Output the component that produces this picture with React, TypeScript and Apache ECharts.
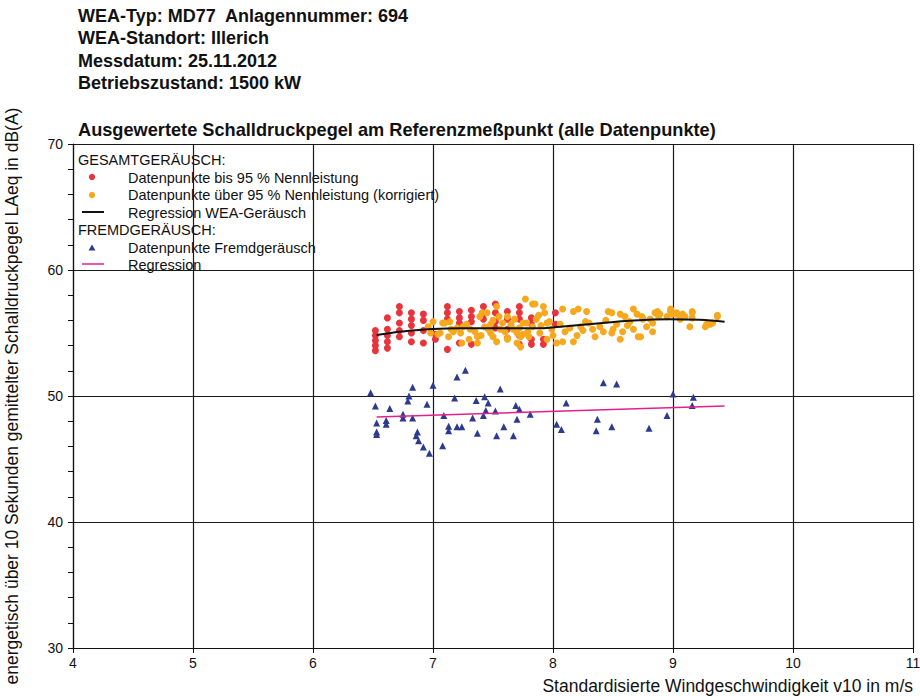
import React, { useEffect, useRef } from "react";
import * as echarts from "echarts";

const FONT = "'Liberation Sans', Arial, Helvetica, sans-serif";

const headerLines = [
  "WEA-Typ: MD77  Anlagennummer: 694",
  "WEA-Standort: Illerich",
  "Messdatum: 25.11.2012",
  "Betriebszustand: 1500 kW",
];
const chartTitle = "Ausgewertete Schalldruckpegel am Referenzmeßpunkt (alle Datenpunkte)";
const xAxisName = "Standardisierte Windgeschwindigkeit v10 in m/s";
const yAxisName = "energetisch über 10 Sekunden gemittelter Schalldruckpegel LAeq in dB(A)";

const legendGroup1 = "GESAMTGERÄUSCH:";
const legendGroup2 = "FREMDGERÄUSCH:";
const nameRed = "Datenpunkte bis 95 % Nennleistung";
const nameOrange = "Datenpunkte über 95 % Nennleistung (korrigiert)";
const nameBlack = "Regression WEA-Geräusch";
const nameBlue = "Datenpunkte Fremdgeräusch";
const nameMagenta = "Regression";

const xTicks = [4, 5, 6, 7, 8, 9, 10, 11];
const yTicks = [30, 40, 50, 60, 70];

// Datenpunkte bis 95 % Nennleistung
const redPoints: number[][] = [
  [6.52, 55.2], [6.52, 54.8], [6.52, 54.4], [6.52, 54.0], [6.52, 53.6],
  [6.62, 56.2], [6.62, 55.3], [6.62, 54.8], [6.62, 54.3], [6.62, 53.8],
  [6.72, 57.1], [6.72, 56.6], [6.72, 55.8], [6.72, 55.2], [6.72, 54.7],
  [6.82, 56.6], [6.82, 56.1], [6.82, 55.6], [6.82, 55.0], [6.82, 54.3],
  [6.92, 56.5], [6.92, 56.0], [6.92, 55.2], [6.92, 54.2],
  [7.02, 54.9], [7.02, 54.5],
  [7.12, 57.1], [7.12, 56.6], [7.12, 56.1], [7.12, 53.7],
  [7.22, 56.7], [7.22, 56.2], [7.22, 55.8], [7.22, 54.2],
  [7.32, 56.8], [7.32, 56.3], [7.32, 55.9], [7.32, 54.1],
  [7.42, 57.1], [7.42, 56.6], [7.42, 56.1],
  [7.52, 57.3], [7.52, 56.6], [7.52, 55.9], [7.52, 55.4],
  [7.62, 56.7], [7.62, 56.1], [7.62, 55.3], [7.62, 54.6],
  [7.72, 57.1], [7.72, 56.6], [7.72, 56.1], [7.72, 54.8], [7.72, 54.1],
  [7.82, 56.2], [7.82, 55.7], [7.82, 54.5], [7.82, 54.1],
  [7.92, 54.5], [7.92, 54.1],
  [8.02, 56.6], [8.02, 55.7],
];

// Datenpunkte über 95 % Nennleistung (korrigiert)
const orangePoints: number[][] = [
  [7.08, 55.8], [7.14, 55.9], [7.17, 55.1], [7.13, 54.7], [7.23, 55.0], [7.31, 55.3],
  [7.37, 54.7], [7.41, 56.6], [7.43, 55.5], [7.48, 55.0], [7.53, 57.1], [7.58, 55.8],
  [7.62, 54.6], [7.67, 55.3], [7.70, 54.2], [7.77, 57.7], [7.78, 55.8], [7.79, 55.1],
  [7.53, 54.3], [7.37, 54.2], [7.24, 54.2], [7.04, 54.9], [7.56, 55.3], [7.73, 54.7],
  [7.48, 55.7], [7.25, 55.5], [7.0, 55.9], [7.1, 55.8], [7.06, 55.0], [7.62, 56.3],
  [7.83, 57.3], [7.45, 56.6], [7.39, 56.3], [7.70, 55.0], [7.62, 54.5], [7.73, 53.9],
  [7.85, 57.3], [7.92, 57.1], [7.93, 56.6], [8.08, 56.9], [8.17, 56.7], [8.21, 56.9],
  [8.28, 56.7], [8.46, 56.7], [8.49, 56.6], [8.56, 56.5], [8.60, 56.3], [8.67, 56.9],
  [8.70, 56.5], [8.87, 56.7], [8.89, 56.5], [8.98, 56.7], [9.03, 56.6], [9.08, 56.5],
  [9.16, 56.7], [9.16, 56.2], [9.37, 56.4], [9.31, 55.7], [9.27, 55.5], [9.14, 55.5],
  [8.83, 55.8], [8.83, 55.1], [8.71, 54.7], [8.67, 55.3], [8.58, 55.1], [8.56, 54.5],
  [8.49, 55.0], [8.42, 55.1], [8.33, 55.3], [8.27, 55.9], [8.17, 54.3], [8.08, 54.3],
  [8.06, 55.7], [8.14, 55.4], [8.23, 55.5], [8.39, 55.5], [8.53, 55.7], [8.64, 55.9],
  [8.75, 56.1], [8.78, 55.5], [8.95, 56.3], [9.06, 56.1], [7.99, 55.3], [7.89, 55.0],
  [7.83, 55.5], [7.75, 55.8], [7.95, 54.5], [8.03, 54.2],
  [8.85, 56.6], [8.88, 56.3], [8.98, 56.9], [8.99, 56.5], [9.10, 56.3], [9.16, 56.6],
  [9.28, 55.7], [9.33, 55.8], [9.37, 56.3], [8.81, 56.1], [8.74, 56.3], [8.73, 54.7],
  [9.03, 56.5], [6.96, 55.5], [6.98, 55.0],
  [7.2, 55.4], [7.28, 55.7], [7.35, 55.1], [7.4, 54.8], [7.46, 55.3], [7.5, 56.0],
  [7.6, 55.1], [7.65, 55.7], [7.72, 55.4], [7.8, 54.7], [7.86, 56.1], [7.9, 55.6],
  [7.97, 55.9], [8.0, 54.8], [8.1, 55.1], [8.2, 54.8], [8.25, 55.2], [8.3, 55.8],
  [8.35, 54.7], [8.44, 56.0], [8.5, 55.3], [8.62, 55.6], [7.15, 55.3], [7.3, 54.5],
  [7.5, 54.7], [7.55, 56.3], [7.68, 56.1], [7.75, 54.9], [7.88, 56.4], [7.95, 55.8],
];

// Regression WEA-Geräusch
const blackRegression: number[][] = [
  [6.53, 54.84], [6.66, 55.02], [6.8, 55.18], [7.0, 55.32], [7.22, 55.37], [7.86, 55.37],
  [8.06, 55.5], [8.39, 55.77], [8.64, 55.98], [8.97, 56.1], [9.22, 56.05], [9.43, 55.9],
];

// Datenpunkte Fremdgeräusch
const bluePoints: number[][] = [
  [6.48, 50.25], [6.52, 49.2], [6.64, 49.0], [6.83, 50.7], [6.8, 50.0], [6.79, 49.6],
  [6.95, 49.35], [7.0, 50.85], [6.75, 48.55], [6.75, 48.25], [6.83, 48.25], [6.53, 47.85],
  [6.53, 47.15], [6.53, 46.95], [6.61, 48.05], [6.61, 47.75], [6.87, 47.15], [6.86, 46.85],
  [6.88, 46.45], [6.92, 45.95], [6.97, 45.45], [7.08, 46.05], [7.09, 48.45], [7.2, 51.5],
  [7.18, 49.85], [7.13, 47.6], [7.13, 47.25], [7.2, 47.55], [7.24, 47.55], [7.27, 52.05],
  [7.33, 48.25], [7.36, 49.65], [7.37, 47.05], [7.43, 49.95], [7.46, 49.45], [7.44, 48.85],
  [7.42, 48.45], [7.52, 48.8], [7.56, 50.55], [7.59, 47.55], [7.53, 46.85], [7.69, 49.25],
  [7.72, 48.95], [7.7, 48.15], [7.67, 46.85], [7.81, 48.55], [8.42, 51.05], [8.53, 50.95],
  [8.11, 49.45], [8.03, 47.75], [8.07, 47.35], [8.37, 48.15], [8.36, 47.25], [8.49, 47.55],
  [8.8, 47.45], [8.95, 48.45], [9.0, 50.15], [9.17, 49.9], [9.16, 49.25],
];

// Regression Fremdgeräusch
const magentaRegression: number[][] = [
  [6.53, 48.33], [9.43, 49.21],
];

const RED = "#e8343c";
const ORANGE = "#f6a81e";
const BLUE = "#2c3b8e";
const MAGENTA = "#e3208e";
const BLACK = "#111111";

export default function App() {
  const ref = useRef<HTMLDivElement>(null);

  useEffect(() => {
    if (!ref.current) return;
    const chart = echarts.init(ref.current, undefined, { renderer: "svg" });

    const txt = (text: string, x: number, y: number, size: number, bold = false) => ({
      type: "text",
      x,
      y,
      style: {
        text,
        fill: "#111",
        font: `${bold ? "bold " : ""}${size}px ${FONT}`,
        textAlign: "left",
        textVerticalAlign: "middle",
        align: "left",
        verticalAlign: "middle",
      },
    });

    const legendLeft = 78;
    const itemX = 128;
    const symX = 92;

    const option: any = {
      animation: false,
      backgroundColor: "#ffffff",
      grid: {
        left: 73,
        right: 7,
        top: 144,
        bottom: 48,
        containLabel: false,
        outerBoundsMode: "none",
      },
      xAxis: {
        type: "value",
        min: xTicks[0],
        max: xTicks[xTicks.length - 1],
        interval: 1,
        name: xAxisName,
        nameLocation: "end",
        nameGap: 0,
        nameTextStyle: {
          fontFamily: FONT,
          fontSize: 17.5,
          color: "#111",
          align: "right",
          verticalAlign: "top",
          padding: [29, 0, 0, 0],
        },
        axisLine: { show: true, onZero: false, lineStyle: { color: "#111", width: 1.2 } },
        axisTick: { show: true, inside: false, length: 5, lineStyle: { color: "#111" } },
        axisLabel: { fontFamily: FONT, fontSize: 14, color: "#111", margin: 8 },
        splitLine: { show: true, lineStyle: { color: "#1a1a1a", width: 1.2 } },
      },
      yAxis: {
        type: "value",
        min: yTicks[0],
        max: yTicks[yTicks.length - 1],
        interval: 10,
        name: yAxisName,
        nameLocation: "middle",
        nameGap: 52,
        nameTextStyle: { fontFamily: FONT, fontSize: 17.5, color: "#111" },
        axisLine: { show: true, onZero: false, lineStyle: { color: "#111", width: 1.2 } },
        axisTick: { show: true, inside: false, length: 5, lineStyle: { color: "#111" } },
        minorTick: { show: true, splitNumber: 5, length: 5, lineStyle: { color: "#111", width: 1 } },
        axisLabel: { fontFamily: FONT, fontSize: 14, color: "#111", margin: 10 },
        splitLine: { show: true, lineStyle: { color: "#1a1a1a", width: 1.2 } },
      },
      series: [
        {
          name: nameRed,
          type: "scatter",
          data: redPoints,
          symbol: "circle",
          symbolSize: 7,
          itemStyle: { color: RED, opacity: 1 },
          z: 2,
        },
        {
          name: nameOrange,
          type: "scatter",
          data: orangePoints,
          symbol: "circle",
          symbolSize: 7,
          itemStyle: { color: ORANGE, opacity: 1 },
          z: 3,
        },
        {
          name: nameBlack,
          type: "line",
          data: blackRegression,
          smooth: 0.4,
          showSymbol: false,
          lineStyle: { color: BLACK, width: 2 },
          z: 5,
        },
        {
          name: nameBlue,
          type: "scatter",
          data: bluePoints,
          symbol: "triangle",
          symbolSize: 7,
          itemStyle: { color: BLUE, opacity: 1 },
          z: 3,
        },
        {
          name: nameMagenta,
          type: "line",
          data: magentaRegression,
          showSymbol: false,
          lineStyle: { color: MAGENTA, width: 1.5 },
          z: 4,
        },
      ],
      graphic: [
        ...headerLines.map((t, i) => txt(t, 78, 16 + i * 22.4, 18, true)),
        txt(chartTitle, 78, 130, 18.2, true),
        {
          type: "group",
          z: 100,
          children: [
            {
              type: "rect",
              shape: { x: 74, y: 145, width: 370, height: 123 },
              style: { fill: "#ffffff", stroke: "none" },
            },
            txt(legendGroup1, legendLeft, 160, 14.5),
            { type: "circle", shape: { cx: symX, cy: 177, r: 3.2 }, style: { fill: RED } },
            txt(nameRed, itemX, 178, 14.5),
            { type: "circle", shape: { cx: symX, cy: 195, r: 3.2 }, style: { fill: ORANGE } },
            txt(nameOrange, itemX, 195, 14.5),
            {
              type: "line",
              shape: { x1: 82, y1: 212, x2: 104, y2: 212 },
              style: { stroke: BLACK, lineWidth: 2 },
            },
            txt(nameBlack, itemX, 213, 14.5),
            txt(legendGroup2, legendLeft, 230, 14.5),
            {
              type: "polygon",
              shape: { points: [[92, 244.5], [95.5, 250.5], [88.5, 250.5]] },
              style: { fill: BLUE },
            },
            txt(nameBlue, itemX, 248, 14.5),
            {
              type: "line",
              shape: { x1: 82, y1: 264, x2: 104, y2: 264 },
              style: { stroke: MAGENTA, lineWidth: 1.5 },
            },
            txt(nameMagenta, itemX, 265, 14.5),
          ],
        },
      ],
    };

    chart.setOption(option);
    return () => chart.dispose();
  }, []);

  return (
    <div
      ref={ref}
      style={{ position: "fixed", left: 0, top: 0, width: 920, height: 696, background: "#fff" }}
    />
  );
}
